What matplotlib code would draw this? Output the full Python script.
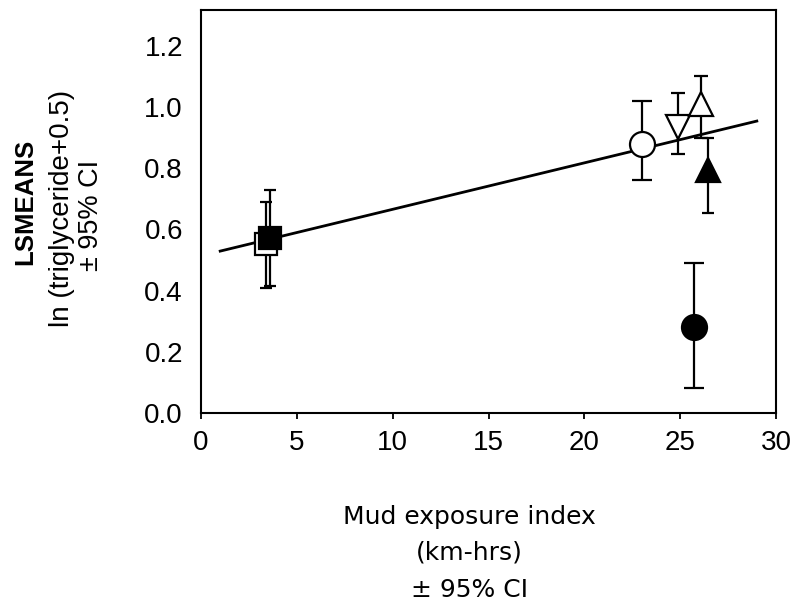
import matplotlib
matplotlib.use("Agg")
import matplotlib.pyplot as plt

# mud exposure index (x), LSMEANS (y) and 95% CI bounds
labels = ["open square", "filled square", "open circle", "open down-tri",
          "open up-tri", "filled up-tri", "filled circle"]
x_vals = [3.4, 3.6, 23.0, 24.9, 26.1, 26.45, 25.7]
y_vals = [0.553, 0.572, 0.88, 0.934, 1.011, 0.795, 0.28]
ci_lo = [0.41, 0.415, 0.76, 0.846, 0.90, 0.653, 0.08]
ci_hi = [0.69, 0.73, 1.02, 1.045, 1.102, 0.90, 0.49]

# regression line endpoints
fit_x = [1, 29]
fit_y = [0.529, 0.954]

xticks = [0, 5, 10, 15, 20, 25, 30]
yticks = [0.0, 0.2, 0.4, 0.6, 0.8, 1.0, 1.2]

styles = [
    dict(marker="s", ms=16, mfc="white"),
    dict(marker="s", ms=16, mfc="black"),
    dict(marker="o", ms=18, mfc="white"),
    dict(marker="v", ms=17, mfc="white"),
    dict(marker="^", ms=17, mfc="white"),
    dict(marker="^", ms=17, mfc="black"),
    dict(marker="o", ms=18, mfc="black"),
]
caps = [4.5, 4.5, 7, 5, 5, 4.5, 7.5]

fig = plt.figure(figsize=(7.99, 6.13), dpi=100)
ax = fig.add_axes([0.2516, 0.3263, 0.7196, 0.6574])

ax.plot(fit_x, fit_y, color="black", lw=2.0, zorder=2)

for i in range(len(x_vals)):
    err = [[y_vals[i] - ci_lo[i]], [ci_hi[i] - y_vals[i]]]
    ax.errorbar([x_vals[i]], [y_vals[i]], yerr=err, fmt="none",
                ecolor="black", elinewidth=1.6, capsize=caps[i],
                capthick=1.6, zorder=3)
    ax.plot([x_vals[i]], [y_vals[i]], linestyle="none", mec="black",
            mew=1.6, zorder=4, **styles[i])

ax.set_xlim(0, 30)
ax.set_ylim(0, 1.317)
ax.set_xticks(xticks)
ax.set_yticks(yticks)
ax.set_xticklabels([str(t) for t in xticks])
ax.set_yticklabels(["%.1f" % t for t in yticks])

for s in ax.spines.values():
    s.set_linewidth(1.5)

ax.tick_params(axis="x", direction="out", length=4, width=1.3, pad=8,
               labelsize=20)
ax.tick_params(axis="y", direction="out", length=0, pad=13, labelsize=20)
for t in ax.get_xticklabels() + ax.get_yticklabels():
    t.set_fontfamily("Liberation Sans")

# y axis title (three lines)
fig.text(0.032, 0.671, "LSMEANS", rotation=90, ha="center", va="center",
         fontsize=18.5, fontweight="bold", fontfamily="Liberation Sans")
fig.text(0.078, 0.660, "ln (triglyceride+0.5)", rotation=90, ha="center",
         va="center", fontsize=20, fontfamily="Liberation Sans")
fig.text(0.114, 0.648, "\u00b1 95% CI", rotation=90, ha="center",
         va="center", fontsize=19.5, fontfamily="Liberation Sans")

# x axis title (three lines)
fig.text(0.588, 0.157, "Mud exposure index", ha="center", va="center",
         fontsize=18, fontfamily="DejaVu Sans")
fig.text(0.588, 0.098, "(km-hrs)", ha="center", va="center",
         fontsize=18, fontfamily="DejaVu Sans")
fig.text(0.588, 0.038, "\u00b1 95% CI", ha="center", va="center",
         fontsize=18, fontfamily="DejaVu Sans")

fig.savefig("out.png", dpi=100)
